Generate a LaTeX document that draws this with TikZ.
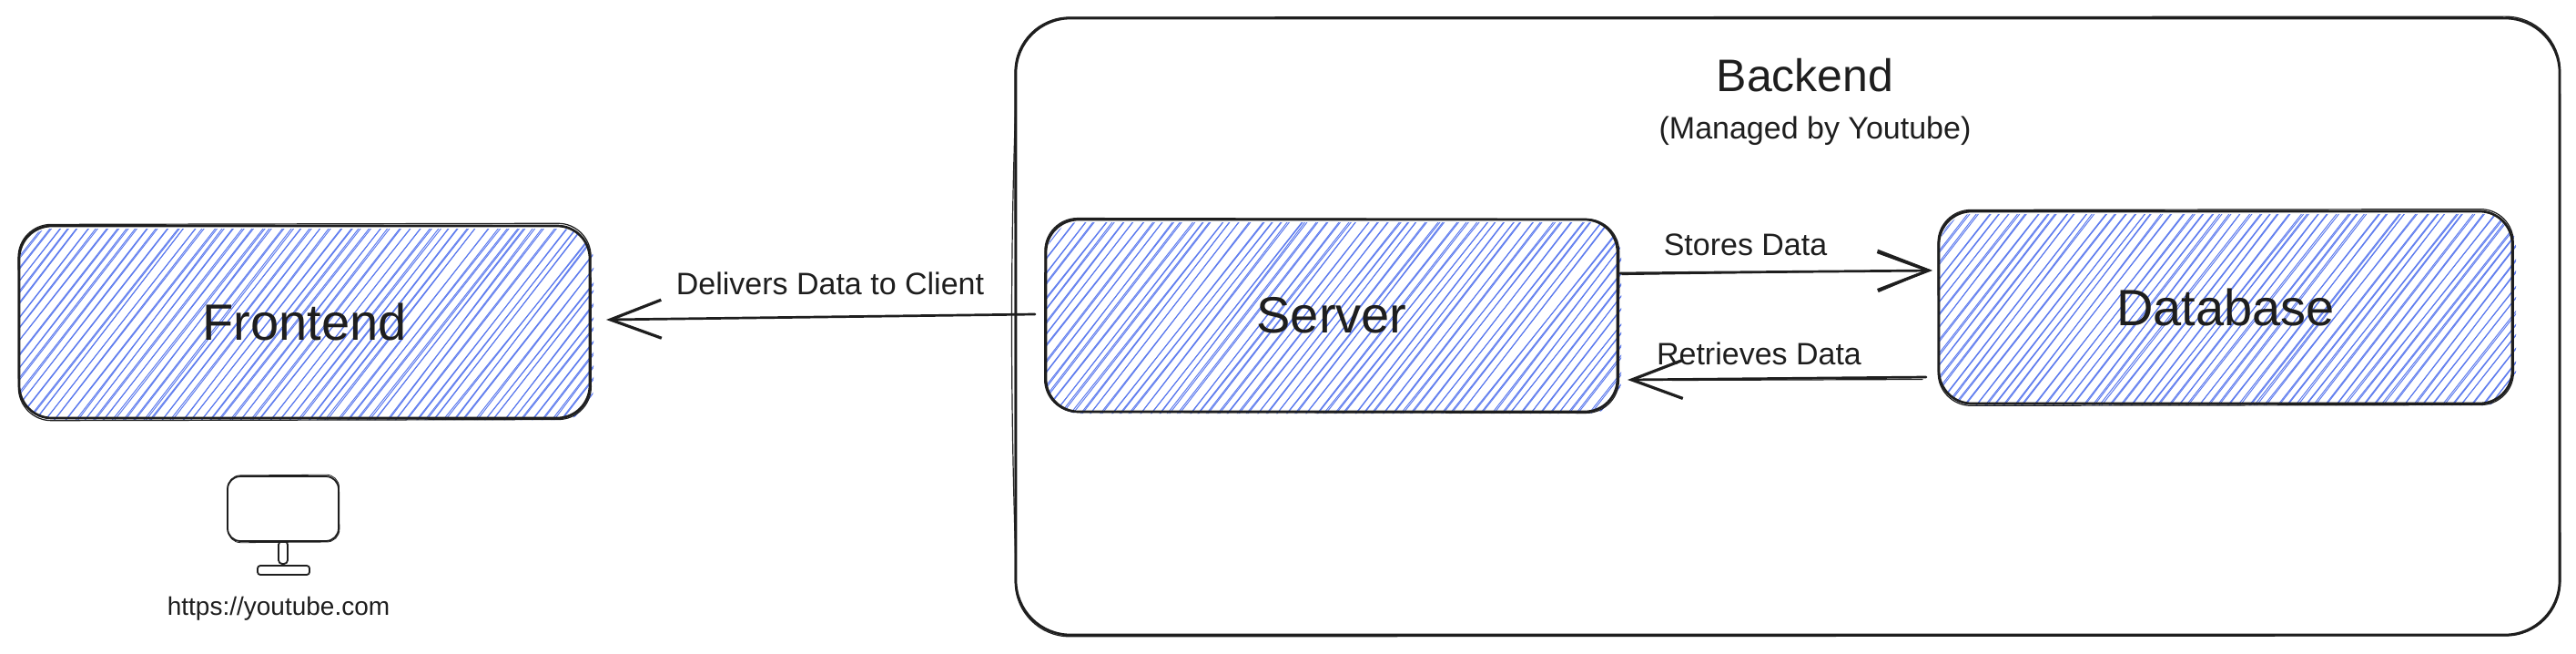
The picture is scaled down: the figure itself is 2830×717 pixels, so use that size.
\documentclass[tikz,border=0pt]{standalone}
\usepackage{fontspec}
\setmainfont{Liberation Sans}
\usetikzlibrary{arrows.meta}
\definecolor{ink}{HTML}{1E1E1E}
\definecolor{hatchblue}{HTML}{5C7AEE}
\tikzset{
  x=0.5pt,y=-0.5pt,
  ink line/.style={draw=ink,line width=1.35pt,line cap=round,line join=round},
  ink thin/.style={draw=ink,line width=0.6pt,line cap=round,line join=round},
  hatch line/.style={draw=hatchblue,line width=0.48pt,line cap=round},
  sketchbox/.style={ink line,rounded corners=18pt,inner sep=0pt,outer sep=0pt,text=ink,font=\fontsize{28}{33}\selectfont},
  plainbox/.style={draw=ink,line width=0.9pt,line cap=round,inner sep=0pt,outer sep=0pt},
  txt/.style={inner sep=0pt,outer sep=0pt,anchor=base,text=ink,font=\fontsize{17}{20}\selectfont},
  conn/.style={ink line,-{Straight Barb[length=28pt,width=21pt,line width=1.6pt]}},
  connb/.style={ink thin,-{Straight Barb[length=28.5pt,width=23pt,line width=0.7pt]}},
}
\newcommand\hachure[5]{%
  \begin{scope}
    \clip[rounded corners=18pt] (#1+1,#2+3) rectangle (#3+4,#4+2);
    \pgfmathsetseed{#5}
    \pgfmathsetmacro\hachh{#4-#2+20}
    \pgfmathsetmacro\hachd{\hachh/1.28}
    \pgfmathtruncatemacro\hachn{(#3-#1+\hachd)/10.7+1}
    \foreach \i in {0,...,\hachn}{
      \pgfmathsetmacro\xa{#1-\hachd+\i*10.7+rand*1.6}
      \pgfmathsetmacro\xb{\xa+\hachd+rand*2.5}
      \pgfmathsetmacro\xc{\xa+rand*2.8}
      \pgfmathsetmacro\xd{\xb+rand*2.8}
      \draw[hatch line] (\xa,#4+10) -- (\xb,#2-10);
      \draw[hatch line] (\xc,#4+10) -- (\xd,#2-10);
    }
  \end{scope}
}
\begin{document}
\begin{tikzpicture}
\useasboundingbox (0,0) rectangle (2830,717);
\fill[white] (0,0) rectangle (2830,717);

% backend container
\node[ink line,rounded corners=30pt,inner sep=0pt,outer sep=0pt,minimum width=848pt,minimum height=338.5pt] (backend) at (1964,358.5) {};
\draw[ink thin,rounded corners=30pt,rotate around={0.03:(backend.center)}] ([shift={(-1,-1)}]backend.north west) rectangle ([shift={(1,1)}]backend.south east);
\draw[ink thin] ([shift={(0,90)}]backend.north west) .. controls ([shift={(-6,250)}]backend.north west) and ([shift={(-6,420)}]backend.north west) .. ([shift={(0,600)}]backend.north west);

% hachure fills
\hachure{21}{248}{648}{459}{11}
\hachure{1149}{241}{1777}{452}{23}
\hachure{2130}{232}{2760}{443}{37}

% boxes
\node[sketchbox,minimum width=313.5pt,minimum height=105.5pt] (frontend) at (334.5,353.5) {Frontend};
\node[sketchbox,minimum width=314pt,minimum height=105.5pt] (server) at (1463,346.5) {Server};
\node[sketchbox,minimum width=315pt,minimum height=105.5pt] (database) at (2445,337.5) {Database};
\foreach \b/\a in {frontend/0.12,server/-0.1,database/0.08}{
  \draw[ink thin,rounded corners=18pt,rotate around={\a:(\b.center)}] ([shift={(-1,-1.5)}]\b.north west) rectangle ([shift={(1.5,1.5)}]\b.south east);
}

% monitor
\node[plainbox,rounded corners=7pt,minimum width=61pt,minimum height=35.5pt] (screen) at (311,558.5) {};
\node[plainbox,rounded corners=2pt,minimum width=5pt,minimum height=12.5pt] (stem) at (311,606.5) {};
\node[plainbox,rounded corners=1.5pt,minimum width=28.5pt,minimum height=5pt] (base) at (311.5,626) {};
\draw[draw=ink,line width=0.4pt,rounded corners=7pt,rotate around={0.4:(screen.center)}] ([shift={(0,-1)}]screen.north west) rectangle ([shift={(1,1)}]screen.south east);

% labels
\node[txt,font=\fontsize{25}{30}\selectfont] (backendlabel) at (1983,101) {Backend};
\node[txt] (managed) at (1994,153) {(Managed by Youtube)};
\node[txt] (delivers) at (912,323) {Delivers Data to Client};
\node[txt] (stores) at (1917.5,280) {Stores Data};
\node[txt] (retrieves) at (1932.5,400) {Retrieves Data};
\node[txt,font=\fontsize{14}{17}\selectfont] (url) at (306,675) {https://youtube.com};

% connectors
\draw[conn] ([shift={(-12,-1.5)}]server.west) -- ([shift={(18,-2.5)}]frontend.east);
\draw[conn] ([shift={(3,-46.5)}]server.east) -- ([shift={(-7,-40.5)}]database.west);
\draw[connb] ([shift={(5,-45)}]server.east) -- ([shift={(-8,-41)}]database.west);
\draw[conn] ([shift={(-14,76.5)}]database.west) -- ([shift={(11,70.5)}]server.east);
\draw[ink thin] ([shift={(-18,79)}]database.west) -- ([shift={(60,71)}]server.east);
\end{tikzpicture}
\end{document}
